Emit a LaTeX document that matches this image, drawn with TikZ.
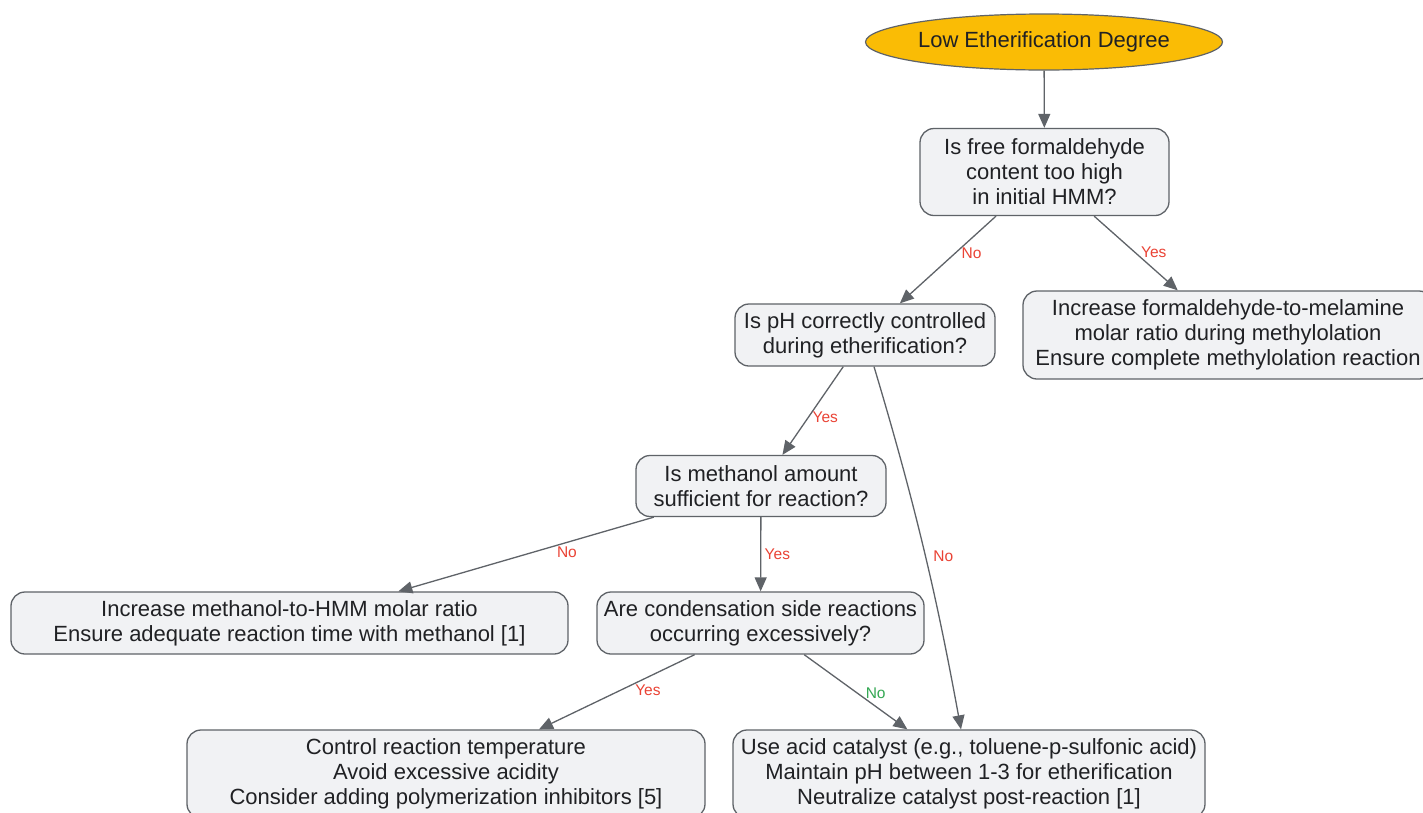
\documentclass[tikz,border=0pt]{standalone}
\usepackage{fontspec}
\setmainfont{Liberation Sans}
\usetikzlibrary{arrows.meta,shapes.geometric}
\definecolor{amber}{RGB}{250, 188, 5}
\definecolor{slate}{RGB}{95, 99, 104}
\definecolor{cloud}{RGB}{241, 242, 244}
\definecolor{ink}{RGB}{32, 33, 36}
\definecolor{cinnabar}{RGB}{234, 67, 53}
\definecolor{emerald}{RGB}{52, 168, 83}

\tikzset{
  startnode/.style={ellipse, draw=slate, fill=amber, line width=1.2pt, text=ink, inner sep=0pt},
  qbox/.style={rounded corners=14pt, draw=slate, fill=cloud, line width=1.3pt, text=ink, align=center, inner sep=0pt},
  flow/.style={draw=slate, line width=1.3pt, -{Triangle[length=14pt,width=12pt]}},
  yeslbl/.style={text=cinnabar, font=\fontsize{15.5}{17}\selectfont},
  nolbl/.style={text=emerald, font=\fontsize{15.5}{17}\selectfont}
}

\begin{document}
\begin{tikzpicture}[x=1pt, y=-1pt, font=\fontsize{22}{25}\selectfont]
            \clip (0,0) rectangle (1423,812);
            \fill[white] (0,0) rectangle (1423,812);
            \node[startnode, minimum width=357pt, minimum height=56pt] (start) at (1044,42) {Low Etherification Degree};
            \node[qbox, minimum width=249pt, minimum height=87pt] (freeform) at (1044.5,172)
                 {Is free formaldehyde\\content too high\\in initial HMM?};
            \node[qbox, minimum width=260pt, minimum height=62pt] (phctrl) at (865,335)
                 {Is pH correctly controlled\\during etherification?};
            \node[qbox, minimum width=410pt, minimum height=88pt] (raisefm) at (1228,335)
                 {Increase formaldehyde-to-melamine\\molar ratio during methylolation\\Ensure complete methylolation reaction};
            \node[qbox, minimum width=250pt, minimum height=61pt] (methanol) at (761,486)
                 {Is methanol amount\\sufficient for reaction?};
            \node[qbox, minimum width=557pt, minimum height=62pt] (raisemeoh) at (289.5,623)
                 {Increase methanol-to-HMM molar ratio\\Ensure adequate reaction time with methanol [1]};
            \node[qbox, minimum width=327pt, minimum height=62pt] (sidereac) at (760.5,623)
                 {Are condensation side reactions\\occurring excessively?};
            \node[qbox, minimum width=518pt, minimum height=88pt] (tempctrl) at (446,774)
                 {Control reaction temperature\\Avoid excessive acidity\\Consider adding polymerization inhibitors [5]};
            \node[qbox, minimum width=472pt, minimum height=88pt] (catalyst) at (969,774)
                 {Use acid catalyst (e.g., toluene-p-sulfonic acid)\\Maintain pH between 1-3 for etherification\\Neutralize catalyst post-reaction [1]};

            \draw[flow] (start) -- (freeform);
            \draw[flow] (freeform) -- node[yeslbl, pos=0.43, right=3pt] {No} (phctrl);
            \draw[flow] (freeform) -- node[yeslbl, pos=0.49, right=2pt] {Yes} (raisefm);
            \draw[flow] (phctrl) -- node[yeslbl, pos=0.57, right] {Yes} (methanol);
            \draw[flow] ([xshift=9pt]phctrl.south) .. controls +(45,150) and +(-22,-120) .. ([xshift=-8pt]catalyst.north)
                 node[yeslbl, pos=0.49, right=4pt] {No};
            \draw[flow] (methanol) -- node[yeslbl, pos=0.34, below] {No} (raisemeoh);
            \draw[flow] (methanol) -- node[yeslbl, midway, right] {Yes} (sidereac);
            \draw[flow] (sidereac) -- node[yeslbl, pos=0.3, below=4pt] {Yes} (tempctrl);
            \draw[flow] (sidereac) -- node[nolbl, pos=0.51, right=5pt] {No} (catalyst);
        \end{tikzpicture}
\end{document}
